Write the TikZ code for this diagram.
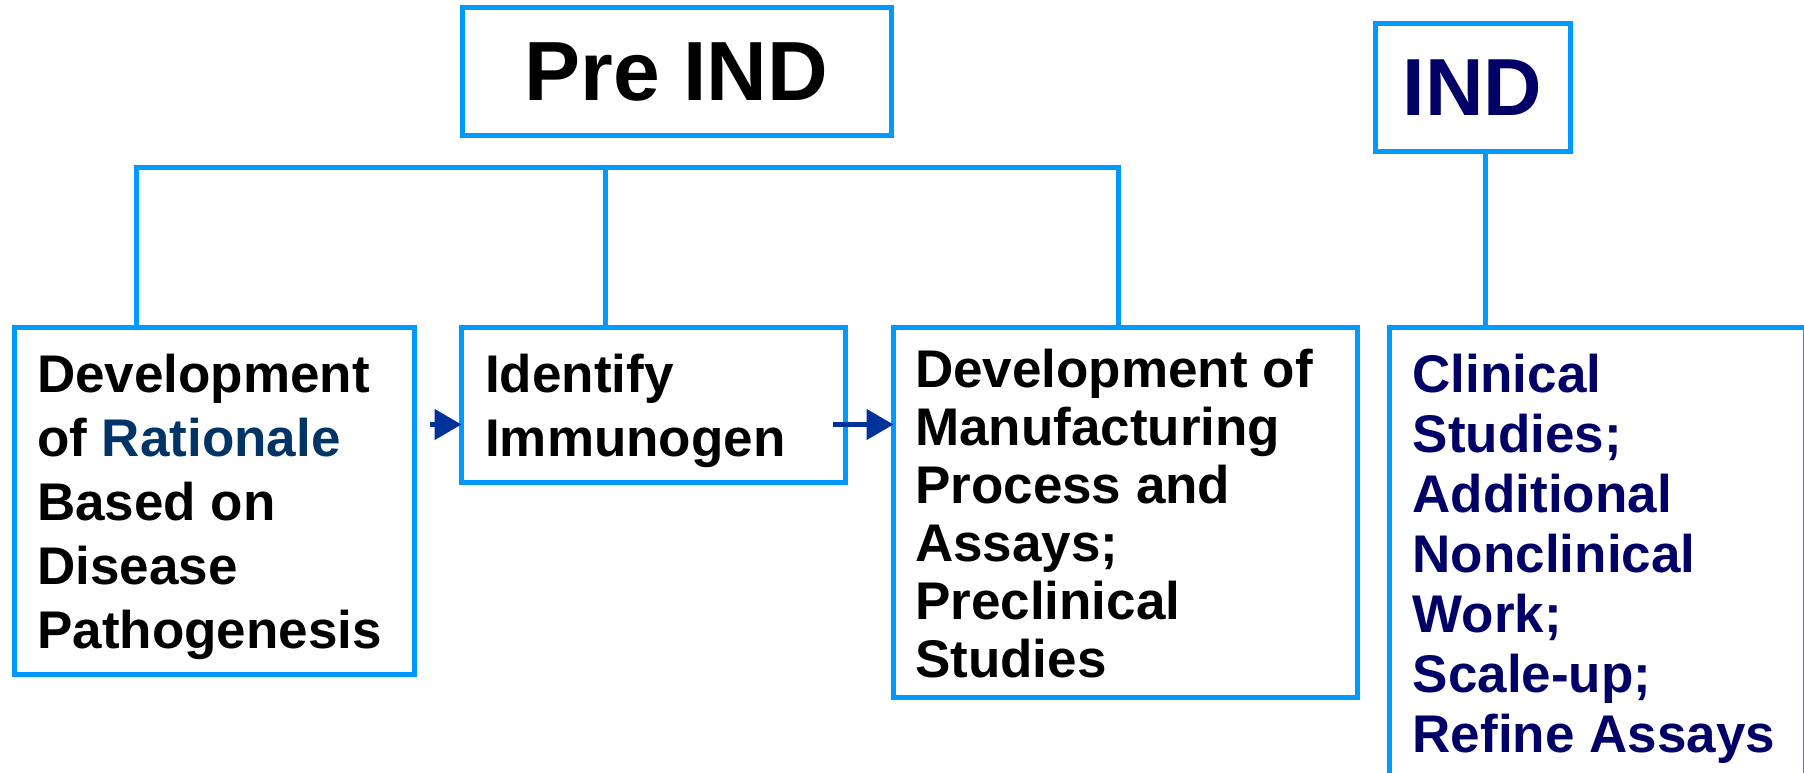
\documentclass[tikz,border=0pt]{standalone}
\usepackage{fontspec}
\setmainfont{Liberation Sans}
\usetikzlibrary{arrows.meta}
\definecolor{frameblue}{RGB}{0,153,255}
\definecolor{indnavy}{RGB}{0,0,102}
\definecolor{ratblue}{RGB}{0,51,102}
\definecolor{arrowblue}{RGB}{0,51,153}
\begin{document}
\begin{tikzpicture}[x=1pt,y=-1pt,
  frame/.style={draw=frameblue,line width=5pt,rectangle,inner sep=0pt,outer sep=0pt,anchor=north west},
  link/.style={draw=frameblue,line width=5pt,line join=miter},
  flow/.style={draw=arrowblue,line width=5pt,-{Triangle[length=27pt,width=30pt]}},
  title/.style={font=\fontsize{84}{100}\selectfont\bfseries},
  body/.style={anchor=base west,inner sep=0pt,text=black}]

\useasboundingbox (0,0) rectangle (1804,773);

% stage headers
\node[frame,minimum width=429pt,minimum height=127.5pt,title] (pre) at (462,8) {Pre IND};
\node[frame,minimum width=195pt,minimum height=128pt,title,font=\fontsize{81}{100}\selectfont\bfseries,text=indnavy] (ind) at (1375,23.5) {IND};

% step boxes
\node[frame,minimum width=399.5pt,minimum height=347pt] (dev) at (14.5,327.5) {};
\node[frame,minimum width=384pt,minimum height=155pt] (imm) at (461.5,327.5) {};
\node[frame,minimum width=464pt,minimum height=370pt] (mfg) at (893.5,327.5) {};
\node[frame,minimum width=416pt,minimum height=480pt] (clin) at (1389.5,327.5) {};

% step texts
\node[body,font=\fontsize{53}{64}\selectfont\bfseries] (devtext) at (37,392)
  {\begin{tabular}[t]{@{}l@{}}Development\\of \textcolor{ratblue}{Rationale}\\Based on\\Disease\\Pathogenesis\end{tabular}};
\node[body,font=\fontsize{53}{64}\selectfont\bfseries] (immtext) at (485,392)
  {\begin{tabular}[t]{@{}l@{}}Identify\\Immunogen\end{tabular}};
\node[body,font=\fontsize{53}{58}\selectfont\bfseries] (mfgtext) at (915,387)
  {\begin{tabular}[t]{@{}l@{}}Development of\\Manufacturing\\Process and\\Assays;\\Preclinical\\Studies\end{tabular}};
\node[body,font=\fontsize{53}{60}\selectfont\bfseries,text=indnavy] (clintext) at (1412.5,392)
  {\begin{tabular}[t]{@{}l@{}}Clinical\\Studies;\\Additional\\Nonclinical\\Work;\\Scale-up;\\Refine Assays\end{tabular}};

% tree connectors
\coordinate (busL) at (136,167.5);
\coordinate (busM) at (605.5,167.5);
\coordinate (busR) at (1118,167.5);
\draw[link] (busL |- dev.north) -- (busL) -- (busR) -- (busR |- mfg.north);
\draw[link] (busM) -- (busM |- imm.north);
\coordinate (indx) at (1485.5,0);
\draw[link] (indx |- ind.south) -- (indx |- clin.north);

% flow arrows
\coordinate (a1) at (430,424.5);
\draw[flow] (a1) -- (a1 -| imm.west);
\coordinate (a2) at (833,424.5);
\draw[flow] (a2) -- (a2 -| mfg.west);
\end{tikzpicture}
\end{document}
